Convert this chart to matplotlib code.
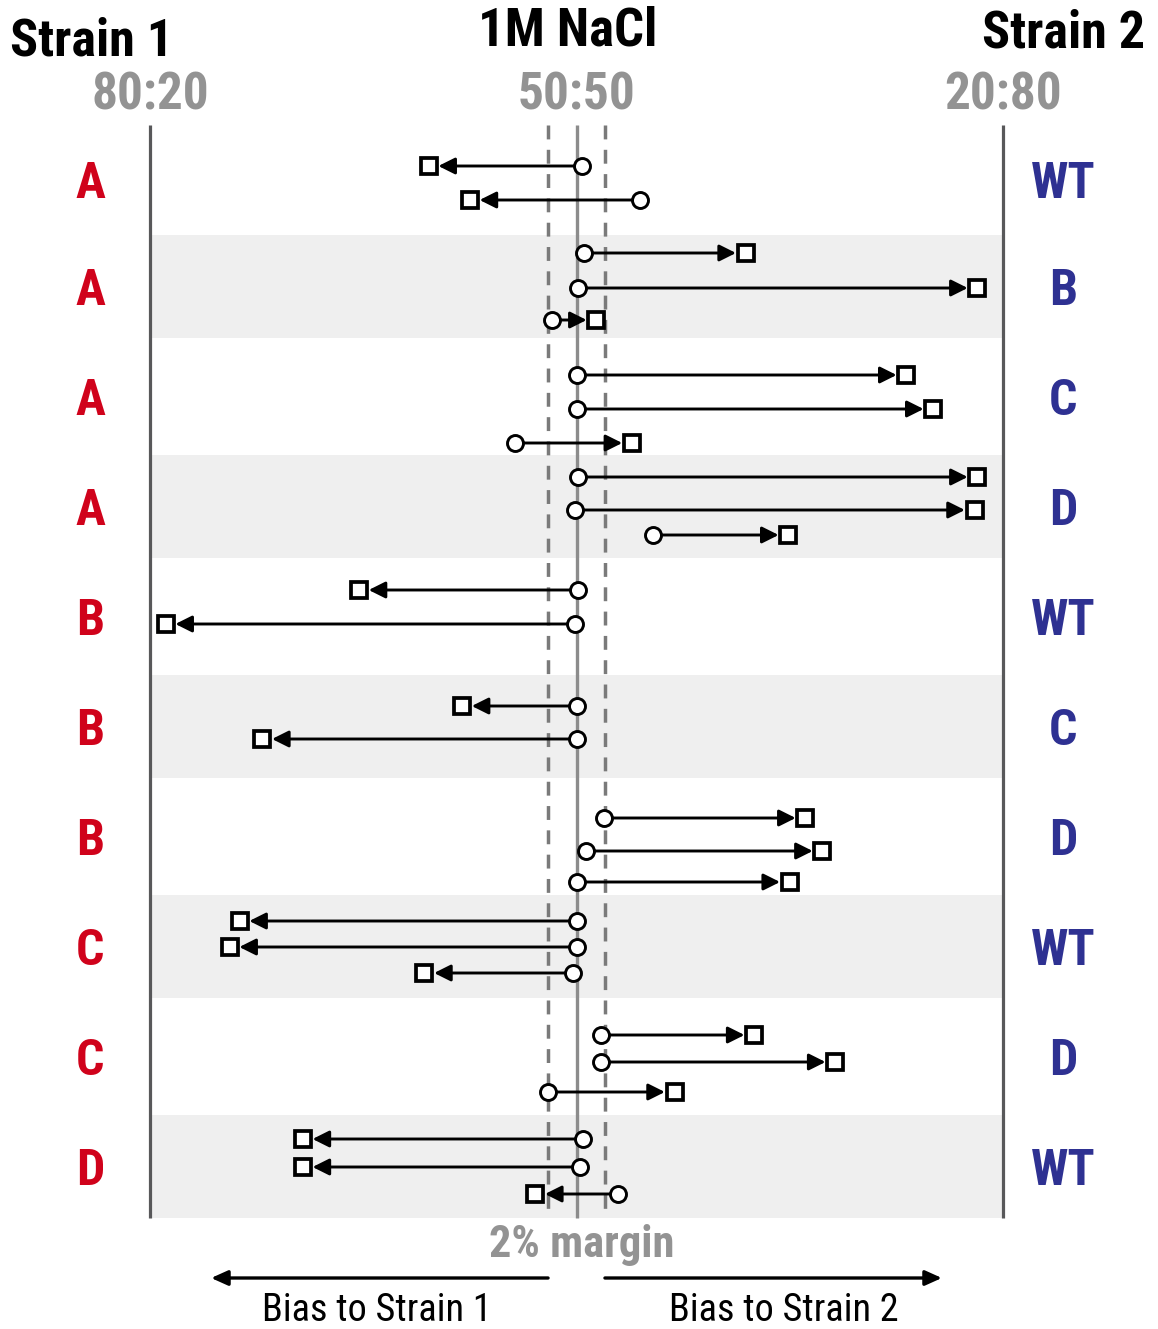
import matplotlib
matplotlib.use("Agg")
import matplotlib.pyplot as plt
from matplotlib import font_manager

# ---- data -------------------------------------------------------------
strain1 = ["A", "A", "A", "A", "B", "B", "B", "C", "C", "D"]
strain2 = ["WT", "B", "C", "D", "WT", "C", "D", "WT", "D", "WT"]

# % of strain 2 (x axis: 20 = 80:20, 50 = 50:50, 80 = 20:80)
# start (circle) -> end (square), one list per strain pair
start_vals = [
    [50.4, 54.5],
    [50.5, 50.1, 48.3],
    [50.0, 50.0, 45.7],
    [50.1, 49.9, 55.4],
    [50.1, 49.9],
    [50.0, 50.0],
    [51.9, 50.7, 50.0],
    [50.0, 50.0, 49.75],
    [51.7, 51.7, 48.0],
    [50.45, 50.25, 52.9],
]
end_vals = [
    [39.6, 42.5],
    [61.9, 78.2, 51.4],
    [73.2, 75.1, 53.9],
    [78.2, 78.0, 64.9],
    [34.7, 21.1],
    [41.95, 27.9],
    [66.1, 67.3, 65.0],
    [26.3, 25.6, 39.3],
    [62.5, 68.2, 56.9],
    [30.75, 30.75, 47.1],
]

ratio_ticks = [20, 50, 80]
ratio_labels = ["80:20", "50:50", "20:80"]
margin = 2

# ---- layout (vertical positions in figure pixels, top = 0) ------------
W, H = 1158, 1329
band_edges = [125, 235, 338, 455, 558, 675, 778, 895, 998, 1115, 1218]
row_y = [
    [166, 200],
    [253, 288, 320],
    [375, 409, 443],
    [477, 510, 535],
    [590, 624],
    [706, 739],
    [818, 851, 882],
    [921, 947, 973],
    [1035, 1062, 1092],
    [1139, 1167, 1194],
]

avail = {f.name for f in font_manager.fontManager.ttflist}
font = "Lato"
for cand in ["Liberation Sans Narrow", "Roboto Condensed", "Open Sans Condensed",
             "DejaVu Sans Condensed", "Lato"]:
    if cand in avail:
        font = cand
        break

# x scale: 20 -> px 150, 80 -> px 1003
px_per = (1003 - 150) / 60.0
x_left = 20 - 150 / px_per
x_right = 20 + (W - 150) / px_per

fig = plt.figure(figsize=(W / 100, H / 100), dpi=100)
ax = fig.add_axes([0, 0, 1, 1])
ax.set_xlim(x_left, x_right)
ax.set_ylim(H, 0)
ax.axis("off")

red = "#D0021B"
blue = "#2E3192"
grey_txt = "#939393"

# alternating background bands
for i in range(len(band_edges) - 1):
    if i % 2 == 1:
        ax.fill_between([20, 80], band_edges[i], band_edges[i + 1],
                        color="#EFEFEF", lw=0, zorder=0)

top, bot = band_edges[0], band_edges[-1]
ax.plot([20, 20], [top, bot], color="#58585A", lw=2.3, zorder=1, solid_capstyle="butt")
ax.plot([80, 80], [top, bot], color="#58585A", lw=2.3, zorder=1, solid_capstyle="butt")
ax.plot([50, 50], [top, bot], color="#8C8C8C", lw=2.4, zorder=1, solid_capstyle="butt")
for m in (50 - margin, 50 + margin):
    ax.plot([m, m], [top, bot], color="#7A7A7A", lw=2.5, zorder=1,
            linestyle=(0, (4.0, 3.0)), dash_capstyle="butt")

# arrows: circle (start) -> square (end)
for g in range(len(start_vals)):
    for s, e, y in zip(start_vals[g], end_vals[g], row_y[g]):
        ax.annotate("", xy=(e, y), xytext=(s, y),
                    arrowprops=dict(arrowstyle="-|>,head_length=10,head_width=5",
                                    mutation_scale=1, lw=2.1, color="black",
                                    shrinkA=0, shrinkB=7.0),
                    zorder=3)
        ax.plot([s], [y], marker="o", ms=11.5, mfc="white", mec="black",
                mew=2.1, zorder=4, ls="none")
        ax.plot([e], [y], marker="s", ms=11, mfc="white", mec="black",
                mew=2.7, zorder=4, ls="none")

# strain labels at band centres
for i in range(len(strain1)):
    yc = (band_edges[i] + band_edges[i + 1]) / 2 + 5
    ax.text(20 - 60 / px_per, yc, strain1[i], color=red, fontsize=36,
            fontweight="bold", family=font, ha="center", va="center")
    ax.text(80 + 60 / px_per, yc, strain2[i], color=blue, fontsize=36,
            fontweight="bold", family=font, ha="center", va="center")

# header
ax.text(20 - 140 / px_per, 55, "Strain 1", fontsize=37.5, fontweight="bold",
        family=font, ha="left", va="baseline", color="black")
ax.text(80 + 142 / px_per, 47, "Strain 2", fontsize=37.5, fontweight="bold",
        family=font, ha="right", va="baseline", color="black")
ax.text(49.4, 45, "1M NaCl", fontsize=38, fontweight="bold",
        family=font, ha="center", va="baseline", color="black")
for t, lab in zip(ratio_ticks, ratio_labels):
    ax.text(t, 109, lab, fontsize=37, fontweight="bold", family=font,
            ha="center", va="baseline", color=grey_txt)

# footer
ax.text(50.4, 1257, "2% margin", fontsize=32, fontweight="bold", family=font,
        ha="center", va="baseline", color=grey_txt)
ax.annotate("", xy=(24.3, 1278), xytext=(50 - margin, 1278),
            arrowprops=dict(arrowstyle="-|>,head_length=10,head_width=4.5",
                            mutation_scale=1, lw=2.4, color="black",
                            shrinkA=0, shrinkB=0))
ax.annotate("", xy=(75.7, 1278), xytext=(50 + margin, 1278),
            arrowprops=dict(arrowstyle="-|>,head_length=10,head_width=4.5",
                            mutation_scale=1, lw=2.4, color="black",
                            shrinkA=0, shrinkB=0))
ax.text(35.95, 1321, "Bias to Strain 1", fontsize=27.5, family=font,
        ha="center", va="baseline", color="black")
ax.text(64.55, 1321, "Bias to Strain 2", fontsize=27.5, family=font,
        ha="center", va="baseline", color="black")

fig.savefig("out.png", dpi=100, facecolor="white")
